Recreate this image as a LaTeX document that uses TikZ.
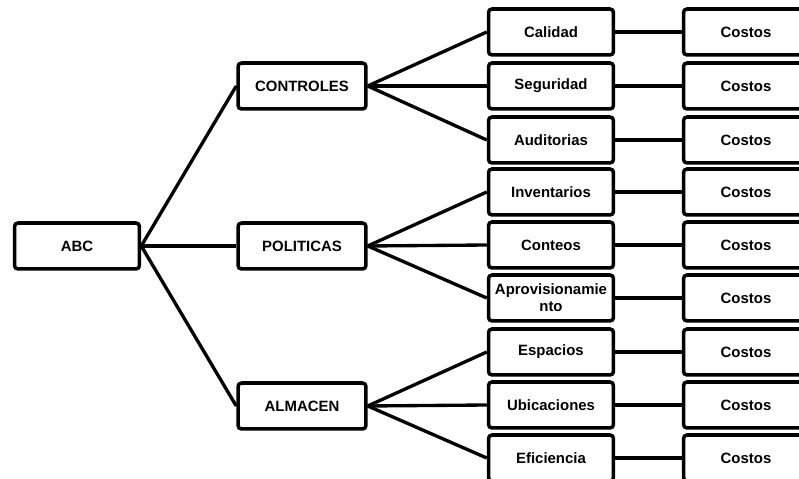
\documentclass[tikz,border=0pt]{standalone}
\usepackage{fontspec}
\setmainfont{Liberation Sans}
\usetikzlibrary{positioning}

\begin{document}
\begin{tikzpicture}[x=0.02cm,y=-0.02cm,
  caja/.style={draw,line width=2pt,rounded corners=2pt,minimum width=2.5cm,
    minimum height=0.92cm,inner sep=1pt,align=center,
    font=\fontsize{8.5}{9.7}\selectfont\bfseries},
  rama/.style={line width=1.9pt}]
  \clip (0,0) rectangle (799,479);
  % raiz y ramas
  \node[caja] (abc) at (77,246) {ABC};
  \node[caja,minimum width=2.56cm] (controles) at (302,86) {CONTROLES};
  \node[caja,minimum width=2.56cm] (politicas) at (302,246) {POLITICAS};
  \node[caja,minimum width=2.56cm] (almacen) at (302,406) {ALMACEN};
  % hojas
  \node[caja] (calidad) at (551,32) {Calidad};
  \node[caja] (seguridad) at (551,86) {Seguridad};
  \node[caja] (auditorias) at (551,140) {Auditorias};
  \node[caja] (inventarios) at (551,192) {Inventarios};
  \node[caja] (conteos) at (551,245) {Conteos};
  \node[caja] (aprov) at (551,298) {Aprovisionamie\\nto};
  \node[caja] (espacios) at (551,352) {Espacios};
  \node[caja] (ubicaciones) at (551,405) {Ubicaciones};
  \node[caja] (eficiencia) at (551,458) {Eficiencia};
  % costos
  \node[caja] (costosA) at (746,32) {Costos};
  \node[caja] (costosB) at (746,86) {Costos};
  \node[caja] (costosC) at (746,140) {Costos};
  \node[caja] (costosD) at (746,192) {Costos};
  \node[caja] (costosE) at (746,245) {Costos};
  \node[caja] (costosF) at (746,298) {Costos};
  \node[caja] (costosG) at (746,352) {Costos};
  \node[caja] (costosH) at (746,405) {Costos};
  \node[caja] (costosI) at (746,458) {Costos};
  % conectores
  \draw[rama] (abc.east) -- (controles.west);
  \draw[rama] (abc.east) -- (politicas.west);
  \draw[rama] (abc.east) -- (almacen.west);
  \draw[rama] (controles.east) -- (calidad.west);
  \draw[rama] (controles.east) -- (seguridad.west);
  \draw[rama] (controles.east) -- (auditorias.west);
  \draw[rama] (politicas.east) -- (inventarios.west);
  \draw[rama] (politicas.east) -- (conteos.west);
  \draw[rama] (politicas.east) -- (aprov.west);
  \draw[rama] (almacen.east) -- (espacios.west);
  \draw[rama] (almacen.east) -- (ubicaciones.west);
  \draw[rama] (almacen.east) -- (eficiencia.west);
  \draw[rama] (calidad.east) -- (costosA.west);
  \draw[rama] (seguridad.east) -- (costosB.west);
  \draw[rama] (auditorias.east) -- (costosC.west);
  \draw[rama] (inventarios.east) -- (costosD.west);
  \draw[rama] (conteos.east) -- (costosE.west);
  \draw[rama] (aprov.east) -- (costosF.west);
  \draw[rama] (espacios.east) -- (costosG.west);
  \draw[rama] (ubicaciones.east) -- (costosH.west);
  \draw[rama] (eficiencia.east) -- (costosI.west);
\end{tikzpicture}
\end{document}
